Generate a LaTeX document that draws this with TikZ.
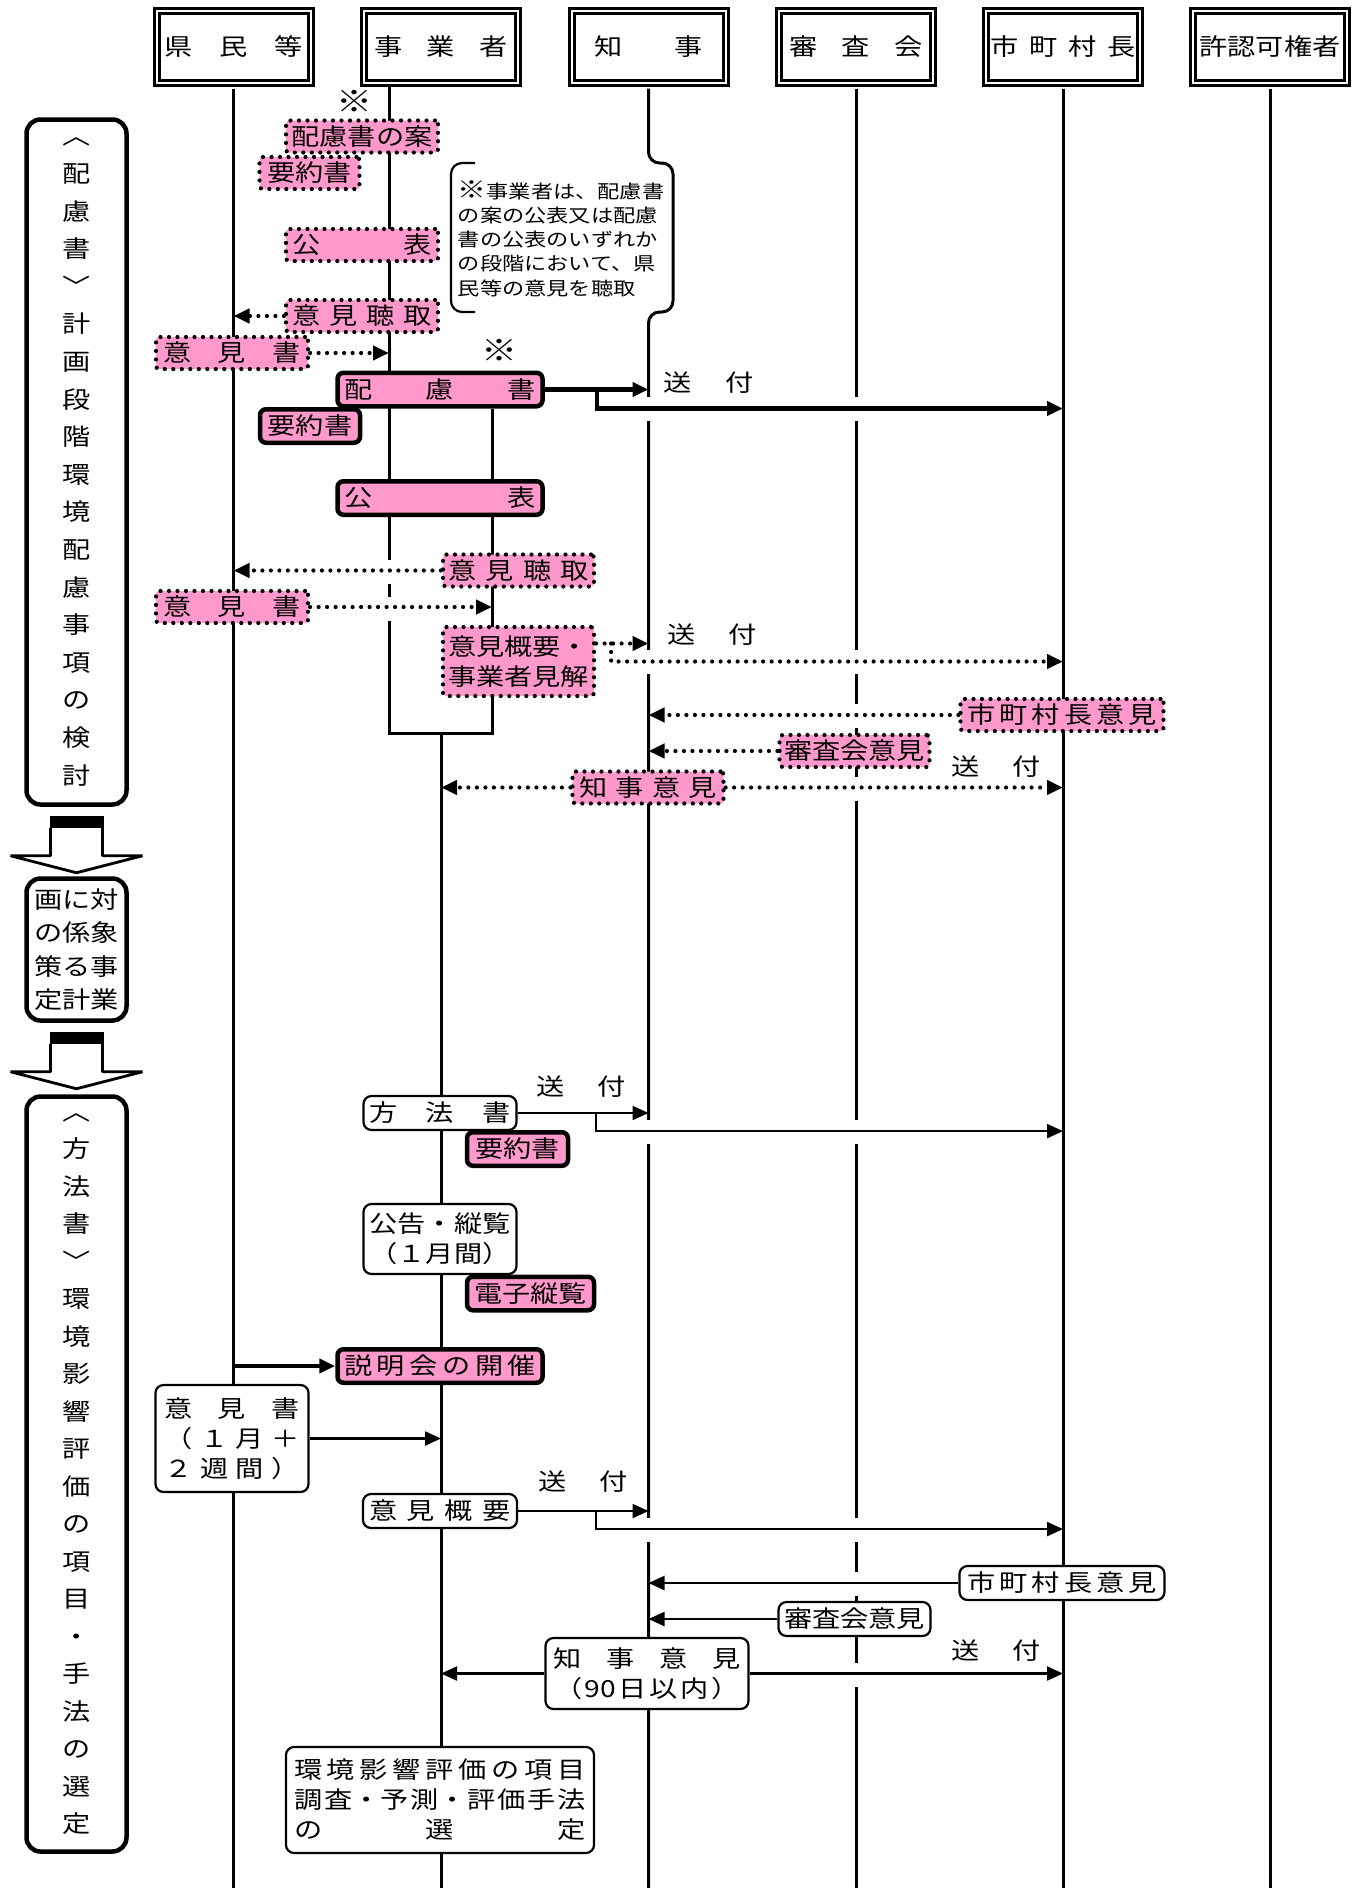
\documentclass[tikz,border=0pt]{standalone}
\usepackage{fontspec}
\setmainfont{Noto Sans CJK JP}[FakeStretch=1.2]
\usetikzlibrary{arrows.meta}

\newcommand\spr[2]{\makebox[#1][s]{\spaceskip=0pt plus 1fil\relax #2}}

\begin{document}
\begin{tikzpicture}[
  x=1pt, y=-1pt,
  >={Triangle[length=16pt,width=14pt]},
  every node/.style={font=\fontsize{23.5}{30}\selectfont, align=center, inner sep=2pt},
  head/.style={draw, double, double distance=2pt, line width=3pt,
    minimum width=154pt, minimum height=72pt},
  phase/.style={draw, line width=4.5pt, rounded corners=14pt,
    minimum width=100pt, inner sep=0pt},
  dotbox/.style={draw, fill=pinkfill, line width=4.2pt, rounded corners=3pt,
    dash pattern=on 0pt off 8.5pt, line cap=round, minimum height=32pt},
  pinkbox/.style={draw, fill=pinkfill, line width=4.5pt, rounded corners=6pt,
    minimum height=33.5pt},
  wbox/.style={draw, fill=white, line width=2.2pt, rounded corners=8pt,
    minimum height=34pt},
  life/.style={line width=3pt},
  flow/.style={->, line width=2.2pt},
  bold/.style={->, line width=4.5pt},
  dots/.style={->, line width=4.2pt, dash pattern=on 0pt off 8.5pt, line cap=round},
  lab/.style={inner sep=0pt},
  kome/.style={font=\fontsize{30}{30}\selectfont, inner sep=0pt},
  pics/bigdown/.style={code={
    \fill (-27,0) rectangle (27,12);
    \draw[line width=2.8pt, line join=bevel] (-26,12) -- (-26,40) -- (-66,40)
      -- (0,57) -- (66,40) -- (26,40) -- (26,12);
  }}]

  \definecolor{pinkfill}{HTML}{FF99CC}

  \useasboundingbox (0,0) rectangle (1364,1888);
  \fill[white] (0,0) rectangle (1364,1888);

  % ---- headers ----
  \node[head] (kenmin) at (233.5,47) {\spr{138pt}{県 民 等}};
  \node[head] (jigyo) at (441,47) {\spr{134pt}{事 業 者}};
  \node[head] (chiji) at (648.5,47) {\spr{108pt}{知 事}};
  \node[head] (shinsa) at (856,47) {\spr{134pt}{審 査 会}};
  \node[head] (shicho) at (1063,47) {\spr{146pt}{市 町 村 長}};
  \node[head] (kyonin) at (1270,47) {許認可権者};

  % ---- lifelines ----
  \coordinate (bot) at (0,1888);
  \coordinate (j1) at (389,87);
  \coordinate (j2) at (492,409);
  \coordinate (jc) at (441,733);
  \foreach \n in {kenmin,shinsa,shicho,kyonin}
    \draw[life] ([yshift=-4pt]\n.south) -- (\n.south |- bot);
  \draw[life, rounded corners=11pt] ([yshift=-4pt]chiji.south)
    -- (chiji.south |- 0,163) -- (673,163) -- (673,312)
    -- (chiji.south |- 0,312) -- (chiji.south |- bot);
  \draw[life] (j1) |- (jc) -| (j2);
  \draw[life] (jc) -- (jc |- bot);

  % gaps where arrows cross
  \foreach \x/\y in {648/409,648/662,648/1132,648/1530,
      856/409,856/662,856/716,856/789,856/1132,856/1530,856/1584,856/1675,
      389/572,389/609}
    \fill[white] ({\x-5},{\y-12}) rectangle ({\x+5},{\y+12});

  % ---- stages (left column) ----
  \node[phase, minimum height=685pt, font=\fontsize{23.5}{37.6}\selectfont]
    (stage1) at (76.5,462)
    {︿\\配\\慮\\書\\﹀\\計\\画\\段\\階\\環\\境\\配\\慮\\事\\項\\の\\検\\討};
  \pic at ([yshift=-9pt]stage1.south) {bigdown};
  \node[phase, minimum height=142pt, font=\fontsize{23.5}{33.4}\selectfont]
    (stage2) at (76.5,949.5) {画に対\\の係象\\策る事\\定計業};
  \pic at ([yshift=-9pt]stage2.south) {bigdown};
  \node[phase, minimum height=755pt, font=\fontsize{23.5}{37.5}\selectfont]
    (stage3) at (76.5,1474)
    {︿\\方\\法\\書\\﹀\\環\\境\\影\\響\\評\\価\\の\\項\\目\\・\\手\\法\\の\\選\\定};

  % ---- note ----
  \node[font=\fontsize{18.5}{24.3}\selectfont, align=left] (chui) at (561,238.5)
    {{\fontsize{24}{24}\selectfont ※}事業者は、配慮書\\の案の公表又は配慮\\書の公表のいずれか\\の段階において、県\\民等の意見を聴取};
  \draw[line width=2.2pt, rounded corners=11pt] (475,163) -- (451,163)
    -- (451,312) -- (475,312);

  % ---- hairyosho stage ----
  \node[kome] (kome1) at (354,101) {※};
  \node[dotbox, minimum width=152pt] (an) at (362,136.5) {配慮書の案};
  \node[dotbox, minimum width=100pt] (yoyaku1) at (309.5,173) {要約書};
  \node[dotbox, minimum width=152pt] (kohyo1) at (362,245) {\spr{139pt}{公 表}};
  \node[dotbox, minimum width=152pt] (chosyu1) at (362,316) {\spr{139pt}{意 見 聴 取}};
  \node[dotbox, minimum width=152pt] (ikensho1) at (232,353) {\spr{137pt}{意 見 書}};
  \node[kome] (kome2) at (499,350) {※};
  \node[pinkbox, minimum width=205pt] (hairyosho) at (440,389.5) {\spr{192pt}{配 慮 書}};
  \node[pinkbox, minimum width=100pt] (yoyaku2) at (310,426) {要約書};
  \node[pinkbox, minimum width=205pt] (kohyo2) at (440,498) {\spr{192pt}{公 表}};
  \node[dotbox, minimum width=151pt] (chosyu2) at (518.5,570.5) {\spr{140pt}{意 見 聴 取}};
  \node[dotbox, minimum width=152pt] (ikensho2) at (232,607) {\spr{137pt}{意 見 書}};
  \node[dotbox, minimum width=151pt, minimum height=69pt] (kenkai) at (518.5,661.5)
    {意見概要・\\事業者見解};
  \node[dotbox, minimum width=203pt] (shiiken1) at (1062,715) {\spr{190pt}{市 町 村 長 意 見}};
  \node[dotbox, minimum width=150pt] (shinsa1) at (854.5,751) {審査会意見};
  \node[dotbox, minimum width=151pt] (chijiiken1) at (648,787.5) {\spr{138pt}{知 事 意 見}};

  \draw[dots] (chosyu1.west) -- (chosyu1.west -| kenmin);
  \draw[dots] (ikensho1.east) -- (ikensho1.east -| j1);
  \coordinate (b1) at ([xshift=52pt]hairyosho.east);
  \draw[bold] (b1) |- (hairyosho.south -| shicho);
  \draw[bold] (hairyosho.east) -- (hairyosho.east -| chiji);
  \draw[dots] (chosyu2.west) -- (chosyu2.west -| kenmin);
  \draw[dots] (ikensho2.east) -- (ikensho2.east -| j2);
  \coordinate (b2) at ([xshift=15pt,yshift=18pt]kenkai.east);
  \draw[dots] ([yshift=18pt]kenkai.east) -- (b2 -| chiji);
  \draw[dots] (b2) |- (kenkai.east -| shicho);
  \draw[dots] (shiiken1.west) -- (shiiken1.west -| chiji);
  \draw[dots] (shinsa1.west) -- (shinsa1.west -| chiji);
  \draw[dots] (chijiiken1.west) -- (chijiiken1.west -| jc);
  \draw[dots] (chijiiken1.east) -- (chijiiken1.east -| shicho);

  % ---- hohosho stage ----
  \node[wbox, minimum width=153pt] (hoho) at (440,1113) {\spr{142pt}{方 法 書}};
  \node[pinkbox, minimum width=101pt] (yoyaku3) at (517.5,1149) {要約書};
  \node[wbox, minimum width=153pt, minimum height=70pt] (kokoku) at (440,1239)
    {公告・縦覧\\（１月間）};
  \node[pinkbox, minimum width=127pt] (denshi) at (530.5,1293.5) {電子縦覧};
  \node[pinkbox, minimum width=205pt] (setsumei) at (440,1366) {\spr{192pt}{説 明 会 の 開 催}};
  \node[wbox, minimum width=153pt, minimum height=107pt] (ikensho3) at (232,1438.5)
    {\spr{135pt}{意 見 書}\\\spr{135pt}{（ １ 月 ＋}\\\spr{135pt}{２ 週 間 ）}};
  \node[wbox, minimum width=154pt] (gaiyo) at (440,1511) {\spr{142pt}{意 見 概 要}};
  \node[wbox, minimum width=205pt] (shiiken2) at (1062,1583) {\spr{190pt}{市 町 村 長 意 見}};
  \node[wbox, minimum width=152pt] (shinsa2) at (854.5,1619) {審査会意見};
  \node[wbox, minimum width=203pt, minimum height=71pt] (chijiiken2) at (647,1673.5)
    {\spr{188pt}{知 事 意 見}\\\spr{186pt}{（ 90 日 以 内 ）}};
  \node[wbox, minimum width=308pt, minimum height=106pt] (sentei) at (440,1800)
    {\spr{292pt}{環 境 影 響 評 価 の 項 目}\\\spr{292pt}{調 査・予 測・評 価 手 法}\\\spr{292pt}{の 選 定}};

  \coordinate (b3) at ([xshift=78pt]hoho.east);
  \draw[flow] (hoho.east) -- (hoho.east -| chiji);
  \draw[flow] (b3) |- (hoho.south -| shicho);
  \draw[bold] (setsumei.west -| kenmin) -- (setsumei.west);
  \draw[flow] (ikensho3.east) -- (ikensho3.east -| jc);
  \coordinate (b4) at ([xshift=78pt]gaiyo.east);
  \draw[flow] (gaiyo.east) -- (gaiyo.east -| chiji);
  \draw[flow] (b4) |- (gaiyo.south -| shicho);
  \draw[flow] (shiiken2.west) -- (shiiken2.west -| chiji);
  \draw[flow] (shinsa2.west) -- (shinsa2.west -| chiji);
  \draw[flow] (chijiiken2.west) -- (chijiiken2.west -| jc);
  \draw[flow] (chijiiken2.east) -- (chijiiken2.east -| shicho);

  % ---- labels ----
  \node[lab] (sofu1) at (708.5,383) {\spr{90pt}{送 付}};
  \node[lab] (sofu2) at (712,635) {\spr{90pt}{送 付}};
  \node[lab] (sofu3) at (996,767) {\spr{90pt}{送 付}};
  \node[lab] (sofu4) at (581,1087) {\spr{90pt}{送 付}};
  \node[lab] (sofu5) at (583,1482) {\spr{90pt}{送 付}};
  \node[lab] (sofu6) at (996,1651) {\spr{90pt}{送 付}};
\end{tikzpicture}
\end{document}
